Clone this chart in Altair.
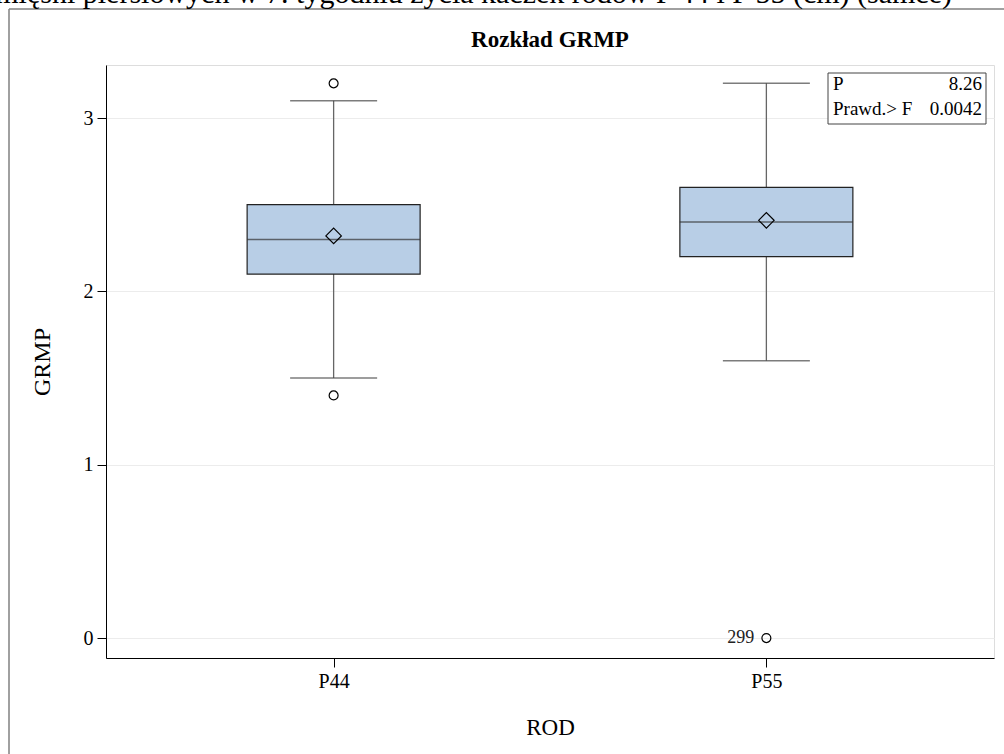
import altair as alt
import pandas as pd

# --- data -------------------------------------------------------------
rod = ["P44", "P55"]
q1 = [2.1, 2.2]
median = [2.3, 2.4]
q3 = [2.5, 2.6]
whisker_low = [1.5, 1.6]
whisker_high = [3.1, 3.2]
mean = [2.32, 2.41]

outlier_rod = ["P44", "P44", "P55"]
outlier_value = [3.2, 1.4, 0.0]
outlier_id = ["", "", "299"]

stat_names = ["P", "Prawd.> F"]
stat_values = ["8.26", "0.0042"]

y_ticks = [0, 1, 2, 3]
page_title = "Grubość mięśni piersiowych w 7. tygodniu życia kaczek rodów P 44 i P 55 (cm) (samce)"
plot_title = "Rozkład GRMP"

FONT = "Liberation Serif"
W, H = 888, 593

boxes = pd.DataFrame({"ROD": rod, "q1": q1, "median": median, "q3": q3,
                      "lo": whisker_low, "hi": whisker_high, "mean": mean})
caps = pd.DataFrame({"ROD": rod * 2, "v": whisker_low + whisker_high})
outliers = pd.DataFrame({"ROD": outlier_rod, "GRMP": outlier_value, "id": outlier_id})
stats = pd.DataFrame({"names": ["\n".join(stat_names)], "values": ["\n".join(stat_values)]})
header = pd.DataFrame({"t": [page_title], "sub": [plot_title]})

x_enc = alt.X("ROD:N", title="ROD",
              scale=alt.Scale(type="point", padding=0.526),
              axis=alt.Axis(labelAngle=0, labelFont=FONT, labelFontSize=20,
                            labelColor="black", tickSize=9, tickColor="black",
                            labelPadding=4, titleFont=FONT, titleFontSize=23,
                            titleFontWeight="normal", titleColor="black",
                            titleX=W / 2, titleY=76, titleBaseline="alphabetic",
                            domainColor="black", grid=False))
y_scale = alt.Scale(domain=[-0.115, 3.306], nice=False, zero=False)
y_axis = alt.Axis(values=y_ticks, format="d", labelFont=FONT, labelFontSize=20,
                  labelColor="black", tickSize=9, tickColor="black", labelPadding=4,
                  titleFont=FONT, titleFontSize=24, titleFontWeight="normal",
                  titleColor="black", titleX=-64, titleY=H / 2,
                  titleBaseline="middle", titleAlign="center",
                  domainColor="black", grid=True, gridColor="#ececec")

# outer frame (top and left edges) and the clipped page heading
frame_top = alt.Chart(header).mark_rule(color="#808080", strokeWidth=1.5).encode(
    x=alt.value(-97), x2=alt.value(1200), y=alt.value(-56))
frame_left = alt.Chart(header).mark_rule(color="#808080", strokeWidth=1.5).encode(
    x=alt.value(-97), y=alt.value(-56), y2=alt.value(1200))
heading = alt.Chart(header).mark_text(font=FONT, fontSize=30, align="right",
                                      baseline="alphabetic", color="black").encode(
    x=alt.value(846), y=alt.value(-62), text="t:N")
subtitle = alt.Chart(header).mark_text(font=FONT, fontSize=23, fontWeight="bold",
                                       align="center", baseline="alphabetic",
                                       color="black").encode(
    x=alt.value(W / 2), y=alt.value(-18), text="sub:N")

whisker = alt.Chart(boxes).mark_rule(color="#666666", strokeWidth=1.3).encode(
    x=x_enc, y=alt.Y("lo:Q", scale=y_scale, axis=y_axis, title="GRMP"), y2="hi:Q")
cap = alt.Chart(caps).mark_tick(size=87, thickness=1.5, color="#444444").encode(
    x="ROD:N", y="v:Q")
box = alt.Chart(boxes).mark_bar(size=173, fill="#B8CEE6", stroke="#222222",
                                strokeWidth=1.2).encode(x="ROD:N", y="q1:Q", y2="q3:Q")
med = alt.Chart(boxes).mark_tick(size=173, thickness=1.5, color="#333333").encode(
    x="ROD:N", y="median:Q")
avg = alt.Chart(boxes).mark_point(shape="diamond", size=240, filled=False,
                                  stroke="black", strokeWidth=1.2, opacity=1).encode(
    x="ROD:N", y="mean:Q")
out_pts = alt.Chart(outliers).mark_point(shape="circle", size=80, filled=False,
                                         stroke="black", strokeWidth=1.2, opacity=1).encode(
    x="ROD:N", y="GRMP:Q")
out_lbl = alt.Chart(outliers).mark_text(font=FONT, fontSize=18, align="right",
                                        baseline="middle", dx=-12, color="#222222").encode(
    x="ROD:N", y="GRMP:Q", text="id:N")

# statistics inset in the upper-right corner
inset_box = alt.Chart(stats).mark_rect(fill="white", stroke="#444444", strokeWidth=1).encode(
    x=alt.value(722), x2=alt.value(880), y=alt.value(8), y2=alt.value(59))
inset_names = alt.Chart(stats).mark_text(font=FONT, fontSize=19, align="left",
                                         baseline="alphabetic", lineBreak="\n",
                                         lineHeight=25, color="black").encode(
    x=alt.value(727), y=alt.value(25), text="names:N")
inset_vals = alt.Chart(stats).mark_text(font=FONT, fontSize=19, align="right",
                                        baseline="alphabetic", lineBreak="\n",
                                        lineHeight=25, color="black").encode(
    x=alt.value(876), y=alt.value(25), text="values:N")

chart = alt.layer(
    frame_top, frame_left, heading, subtitle, whisker, cap, box, med, avg,
    out_pts, out_lbl, inset_box, inset_names, inset_vals
).properties(
    width=W, height=H,
    autosize=alt.AutoSizeParams(type="none"),
    padding={"left": 106, "top": 65, "right": 10, "bottom": 96},
).configure_view(stroke="#666666", strokeWidth=1).configure(background="white")

chart.save("out.html", embed_options={"renderer": "svg", "actions": False})
